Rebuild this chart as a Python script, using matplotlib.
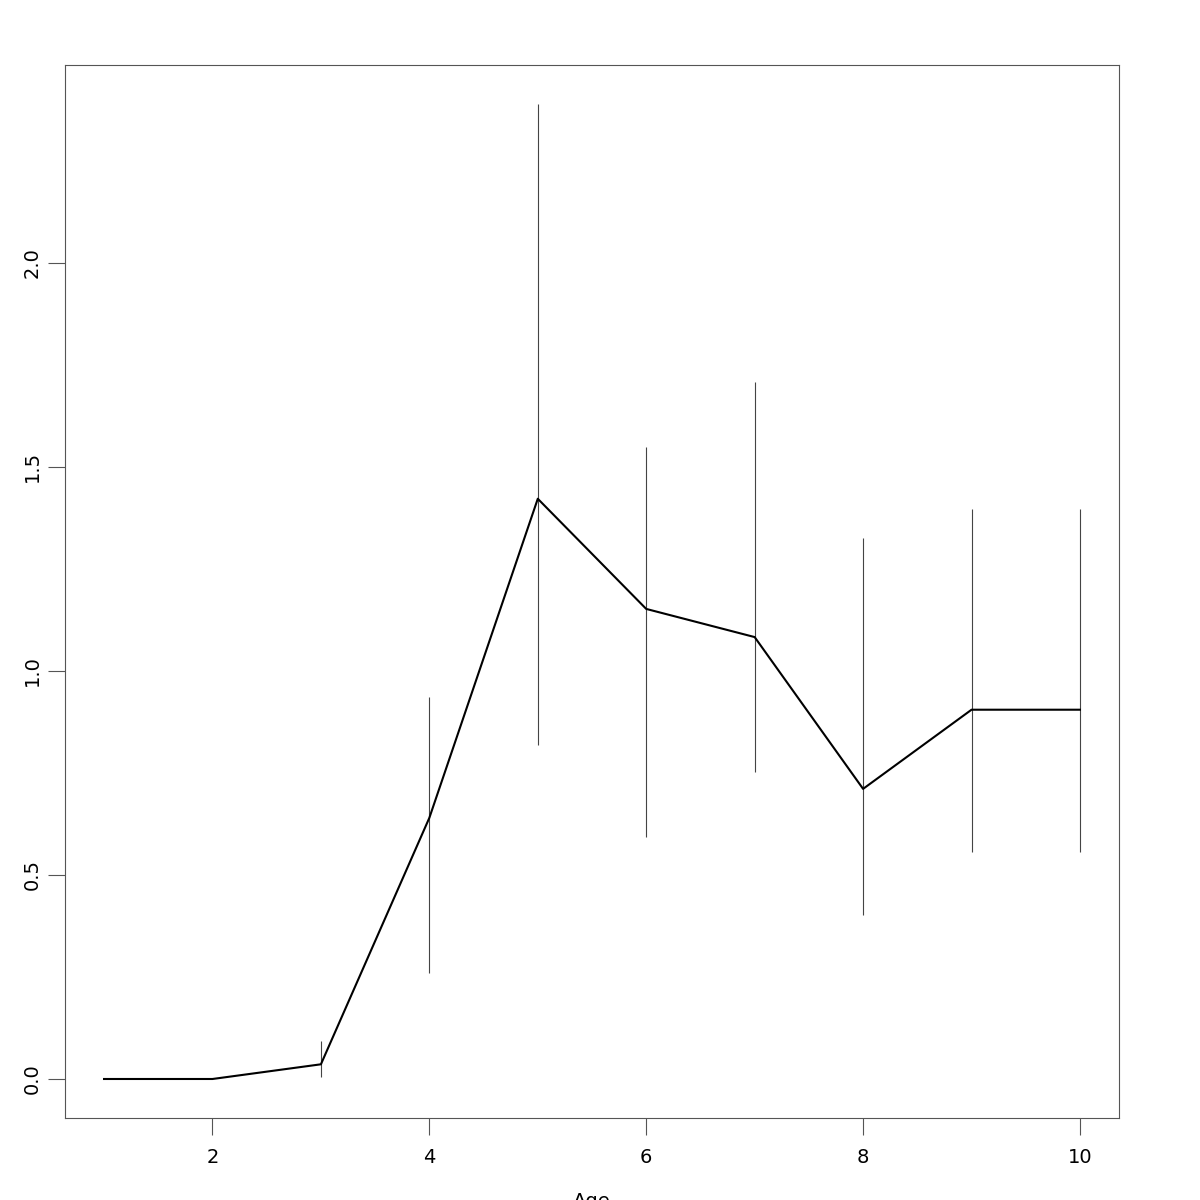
import numpy as np
import matplotlib.pyplot as plt

# values
age = [1, 2, 3, 4, 5, 6, 7, 8, 9, 10]
mean = [0.0, 0.0, 0.036, 0.640, 1.422, 1.152, 1.083, 0.711, 0.905, 0.905]
upper = [0.0, 0.0, 0.093, 0.936, 2.389, 1.548, 1.709, 1.325, 1.396, 1.396]
lower = [0.0, 0.0, 0.005, 0.259, 0.819, 0.592, 0.753, 0.401, 0.557, 0.557]

x_ticks = [2, 4, 6, 8, 10]
y_ticks = [0.0, 0.5, 1.0, 1.5, 2.0]

fig = plt.figure(figsize=(12, 12), dpi=100)
ax = fig.add_axes([65 / 1200, 82 / 1200, 1054 / 1200, 1053 / 1200])

# error bars (R-style thin gray segments)
ax.vlines(age[2:], lower[2:], upper[2:], color="#444444", linewidth=0.8)
ax.plot(age, mean, color="black", linewidth=1.5)

ax.set_xlim(0.64, 10.36)
ax.set_ylim(-0.0956, 2.485)
ax.set_xticks(x_ticks)
ax.set_xticklabels([str(t) for t in x_ticks])
ax.set_yticks(y_ticks)
ax.set_yticklabels(["%.1f" % t for t in y_ticks], rotation=90, va="center")

ax.tick_params(axis="both", labelsize=14, length=12, width=0.8,
               color="#555555", direction="out")
ax.tick_params(axis="x", pad=9.5)
ax.tick_params(axis="y", pad=5)
for spine in ax.spines.values():
    spine.set_color("#555555")
    spine.set_linewidth(0.8)

# axis title sits partly below the canvas edge, as in the source figure
fig.text(592 / 1200, 8 / 1200, "Age", ha="center", va="top", fontsize=14)

fig.savefig("out.png", dpi=100)
